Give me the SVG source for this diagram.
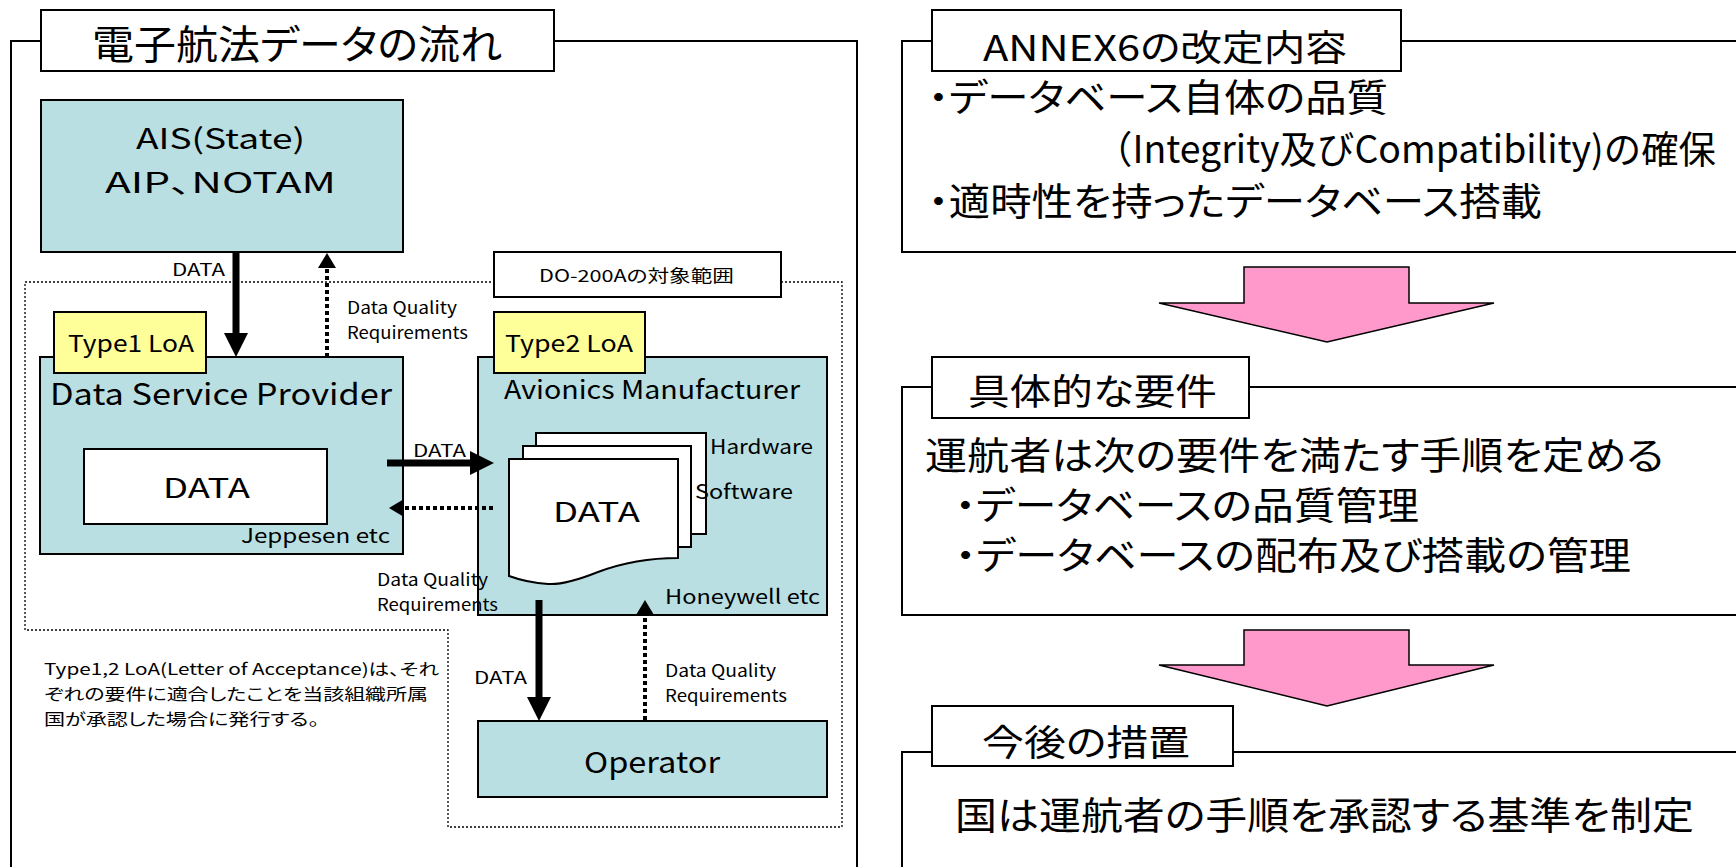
<svg xmlns="http://www.w3.org/2000/svg" width="1736" height="867" viewBox="0 0 1736 867">
  <style>
    text { font-family: "Noto Sans CJK JP", "Noto Sans", sans-serif; fill: #000; font-feature-settings: "palt"; }
    text.full { font-feature-settings: normal; }
    .frame { fill: #fff; stroke: #000; stroke-width: 2; }
    .tag { fill: #fff; stroke: #000; stroke-width: 2; }
    .teal { fill: #b9dfe2; stroke: #000; stroke-width: 2; }
    .loa { fill: #ffff99; stroke: #000; stroke-width: 2; }
    .page { fill: #fff; stroke: #000; stroke-width: 2; }
    .scope { fill: none; stroke: #000; stroke-width: 1.3; stroke-dasharray: 2 2; }
    .solid { stroke: #000; stroke-width: 7; fill: none; }
    .dotted { stroke: #000; stroke-width: 4; stroke-dasharray: 4 3; fill: none; }
    .pink { fill: #ff99cc; stroke: #000; stroke-width: 1.5; }
  </style>
  <defs>
    <marker id="headSolid" markerUnits="userSpaceOnUse" markerWidth="24" markerHeight="24" viewBox="0 0 24 24" refX="0" refY="12" orient="auto">
      <path d="M0,0 L24,12 L0,24 Z" fill="#000"/>
    </marker>
    <marker id="headDotted" markerUnits="userSpaceOnUse" markerWidth="15" markerHeight="18" viewBox="0 0 15 18" refX="0" refY="9" orient="auto">
      <path d="M0,0 L15,9 L0,18 Z" fill="#000"/>
    </marker>
  </defs>

  <rect width="1736" height="867" fill="#fff"/>

  <!-- left panel: data flow -->
  <g id="flow-panel">
    <rect class="frame" x="11" y="41" width="846" height="860"/>
    <rect class="tag" x="41" y="10" width="513" height="61"/>
    <text x="92" y="59" font-size="40" textLength="410" lengthAdjust="spacingAndGlyphs">電子航法データの流れ</text>
  </g>

  <!-- DO-200A scope outline -->
  <g id="scope">
    <path class="scope" d="M25,282 H842 V827 H448 V630 H25 Z"/>
    <rect class="tag" x="494" y="252" width="287" height="45" stroke-width="1.5"/>
    <text x="539" y="282" font-size="17" textLength="195" lengthAdjust="spacingAndGlyphs">DO-200Aの対象範囲</text>
  </g>

  <g id="ais">
    <rect class="teal" x="41" y="100" width="362" height="152"/>
    <text x="136" y="149" font-size="28" textLength="169" lengthAdjust="spacingAndGlyphs">AIS(State)</text>
    <text x="105" y="193" font-size="28" textLength="231" lengthAdjust="spacingAndGlyphs">AIP、NOTAM</text>
  </g>

  <g id="data-service-provider">
    <rect class="teal" x="40" y="357" width="363" height="197"/>
    <text x="50" y="405" font-size="30" textLength="342" lengthAdjust="spacingAndGlyphs">Data Service Provider</text>
    <rect class="page" x="84" y="449" width="243" height="75"/>
    <text x="163" y="498" font-size="27" textLength="87" lengthAdjust="spacingAndGlyphs">DATA</text>
    <text x="241" y="543" font-size="20" textLength="149" lengthAdjust="spacingAndGlyphs">Jeppesen etc</text>
  </g>

  <g id="type1-loa">
    <rect class="loa" x="54" y="312" width="152" height="61"/>
    <text x="68" y="352" font-size="23" textLength="126" lengthAdjust="spacingAndGlyphs">Type1 LoA</text>
  </g>

  <g id="avionics-manufacturer">
    <rect class="teal" x="478" y="357" width="349" height="258"/>
    <text x="504" y="399" font-size="26" textLength="296" lengthAdjust="spacingAndGlyphs">Avionics Manufacturer</text>
    <rect class="page" x="536" y="433" width="170" height="101"/>
    <rect class="page" x="523" y="446" width="168" height="101"/>
    <path class="page" d="M509,459 H678 V558 C650,558 622,563 598,572 C578,580 562,585 548,584 C532,583 520,580 509,576 Z"/>
    <text x="553" y="522" font-size="27" textLength="87" lengthAdjust="spacingAndGlyphs">DATA</text>
    <text x="710" y="454" font-size="20" textLength="103" lengthAdjust="spacingAndGlyphs">Hardware</text>
    <text x="695" y="499" font-size="20" textLength="98" lengthAdjust="spacingAndGlyphs">Software</text>
    <text x="665" y="604" font-size="20" textLength="155" lengthAdjust="spacingAndGlyphs">Honeywell etc</text>
  </g>

  <g id="type2-loa">
    <rect class="loa" x="494" y="312" width="151" height="61"/>
    <text x="505" y="352" font-size="23" textLength="128" lengthAdjust="spacingAndGlyphs">Type2 LoA</text>
  </g>

  <g id="operator">
    <rect class="teal" x="478" y="721" width="349" height="76"/>
    <text x="584" y="773" font-size="29" textLength="136" lengthAdjust="spacingAndGlyphs">Operator</text>
  </g>

  <g id="loa-note">
    <text x="44" y="675" font-size="16" textLength="395" lengthAdjust="spacingAndGlyphs">Type1,2 LoA(Letter of Acceptance)は、それ</text>
    <text x="44" y="700" font-size="16" textLength="384" lengthAdjust="spacingAndGlyphs">ぞれの要件に適合したことを当該組織所属</text>
    <text x="44" y="725" font-size="16" textLength="275" lengthAdjust="spacingAndGlyphs">国が承認した場合に発行する。</text>
  </g>

  <!-- data and requirement flows -->
  <g id="connectors">
    <line class="solid" x1="236" y1="252" x2="236" y2="333" marker-end="url(#headSolid)"/>
    <line class="dotted" x1="327" y1="357" x2="327" y2="268" marker-end="url(#headDotted)"/>
    <line class="solid" x1="387" y1="463" x2="470" y2="463" marker-end="url(#headSolid)"/>
    <line class="dotted" x1="493" y1="508" x2="404" y2="508" marker-end="url(#headDotted)"/>
    <line class="solid" x1="539" y1="600" x2="539" y2="697" marker-end="url(#headSolid)"/>
    <line class="dotted" x1="645" y1="720" x2="645" y2="615" marker-end="url(#headDotted)"/>

    <text x="172" y="276" font-size="17" textLength="53" lengthAdjust="spacingAndGlyphs">DATA</text>
    <text x="347" y="314" font-size="17" textLength="110" lengthAdjust="spacingAndGlyphs">Data Quality</text>
    <text x="347" y="339" font-size="17" textLength="121" lengthAdjust="spacingAndGlyphs">Requirements</text>
    <text x="413" y="457" font-size="17" textLength="53" lengthAdjust="spacingAndGlyphs">DATA</text>
    <text x="377" y="586" font-size="17" textLength="111" lengthAdjust="spacingAndGlyphs">Data Quality</text>
    <text x="377" y="611" font-size="17" textLength="121" lengthAdjust="spacingAndGlyphs">Requirements</text>
    <text x="474" y="684" font-size="17" textLength="53" lengthAdjust="spacingAndGlyphs">DATA</text>
    <text x="665" y="677" font-size="17" textLength="111" lengthAdjust="spacingAndGlyphs">Data Quality</text>
    <text x="665" y="702" font-size="17" textLength="122" lengthAdjust="spacingAndGlyphs">Requirements</text>
  </g>

  <!-- right panel: ANNEX 6 amendment -->
  <g id="annex6">
    <rect class="frame" x="902" y="41" width="860" height="211"/>
    <rect class="tag" x="932" y="10" width="469" height="61"/>
    <text x="983" y="61" font-size="36" textLength="364" lengthAdjust="spacingAndGlyphs">ANNEX6の改定内容</text>
    <text x="928" y="111" font-size="38" textLength="460" lengthAdjust="spacingAndGlyphs">・データベース自体の品質</text>
    <text class="full" x="1095" y="163" font-size="38" textLength="621" lengthAdjust="spacingAndGlyphs">（Integrity及びCompatibility)の確保</text>
    <text x="928" y="215" font-size="38" textLength="614" lengthAdjust="spacingAndGlyphs">・適時性を持ったデータベース搭載</text>
  </g>

  <g id="arrow-1">
    <path class="pink" d="M1244,267 H1409 V303 H1494 L1327,342 L1159,303 H1244 Z"/>
  </g>

  <g id="requirements">
    <rect class="frame" x="902" y="387" width="860" height="228"/>
    <rect class="tag" x="932" y="357" width="317" height="61"/>
    <text x="968" y="405" font-size="36" textLength="249" lengthAdjust="spacingAndGlyphs">具体的な要件</text>
    <text x="925" y="469" font-size="38" textLength="739" lengthAdjust="spacingAndGlyphs">運航者は次の要件を満たす手順を定める</text>
    <text x="955" y="519" font-size="38" textLength="464" lengthAdjust="spacingAndGlyphs">・データベースの品質管理</text>
    <text x="955" y="569" font-size="38" textLength="676" lengthAdjust="spacingAndGlyphs">・データベースの配布及び搭載の管理</text>
  </g>

  <g id="arrow-2">
    <path class="pink" d="M1244,630 H1409 V665 H1494 L1327,706 L1159,665 H1244 Z"/>
  </g>

  <g id="next-steps">
    <rect class="frame" x="902" y="752" width="860" height="160"/>
    <rect class="tag" x="932" y="706" width="301" height="60"/>
    <text x="982" y="756" font-size="36" textLength="208" lengthAdjust="spacingAndGlyphs">今後の措置</text>
    <text x="955" y="829" font-size="38" textLength="739" lengthAdjust="spacingAndGlyphs">国は運航者の手順を承認する基準を制定</text>
  </g>
</svg>
